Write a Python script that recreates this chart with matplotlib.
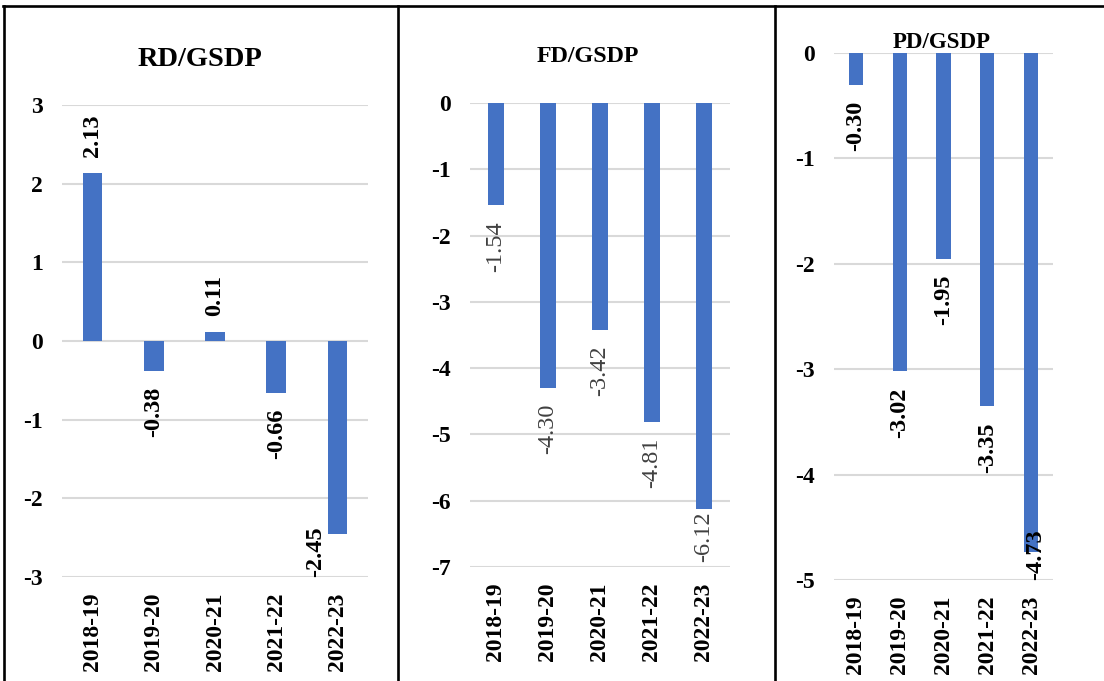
import matplotlib
matplotlib.use("Agg")
import matplotlib.pyplot as plt
from matplotlib.lines import Line2D
from matplotlib.transforms import offset_copy

plt.rcParams['font.family'] = ['Liberation Serif', 'DejaVu Serif']

categories = ["2018-19", "2019-20", "2020-21", "2021-22", "2022-23"]
rd_values = [2.13, -0.38, 0.11, -0.66, -2.45]
fd_values = [-1.54, -4.30, -3.42, -4.81, -6.12]
pd_values = [-0.30, -3.02, -1.95, -3.35, -4.73]
titles = ["RD/GSDP", "FD/GSDP", "PD/GSDP"]

W, H = 1104, 681
fig = plt.figure(figsize=(W / 100, H / 100), dpi=100)

BAR = "#4472C4"
GRID = "#d9d9d9"


def rect(left, right, top, bottom):
    return [left / W, (H - bottom) / H, (right - left) / W, (bottom - top) / H]


panels = [
    dict(vals=rd_values, r=rect(62, 368, 105, 577), ylim=(-3, 3), ticks=range(-3, 4),
         title=titles[0], tx=200, ty=60, tsize=20.5, lw="bold", lc="black",
         clip_dx=-16, clip_dy=0),
    dict(vals=fd_values, r=rect(470, 730, 103, 567), ylim=(-7, 0), ticks=range(-7, 1),
         title=titles[1], tx=588, ty=57, tsize=17.3, lw="normal", lc="#404040",
         clip_dx=0, clip_dy=3.5),
    dict(vals=pd_values, r=rect(834, 1053, 53, 580), ylim=(-5, 0), ticks=range(-5, 1),
         title=titles[2], tx=942, ty=42, tsize=16.5, lw="bold", lc="black",
         clip_dx=3, clip_dy=0),
]

fig.canvas.draw()
renderer = fig.canvas.get_renderer()

LSIZE = 17.5

for p in panels:
    ax = fig.add_axes(p["r"])
    x = list(range(len(categories)))
    ax.bar(x, p["vals"], width=0.32, color=BAR, zorder=3)
    ax.set_xlim(-0.5, len(categories) - 0.5)
    ax.set_ylim(*p["ylim"])
    ax.set_yticks(list(p["ticks"]))
    ax.set_yticklabels([str(t) for t in p["ticks"]], fontsize=17, fontweight="bold")
    ax.set_xticks(x)
    ax.set_xticklabels(categories, rotation=90, fontsize=17, fontweight="bold")
    ax.tick_params(axis="both", length=0)
    ax.tick_params(axis="x", pad=11)
    ax.tick_params(axis="y", pad=14)
    for s in ax.spines.values():
        s.set_visible(False)
    ax.yaxis.grid(True, color=GRID, linewidth=1.5, zorder=0)
    ax.set_axisbelow(True)
    for i, v in enumerate(p["vals"]):
        off = 11.5 if v >= 0 else -11.5
        t = ax.annotate(f"{v:.2f}", xy=(i, v), xytext=(0, off), textcoords="offset points",
                        ha="center", va="bottom" if v >= 0 else "top", rotation=90,
                        fontsize=LSIZE, fontweight=p["lw"], color=p["lc"], zorder=4)
        bb = t.get_window_extent(renderer)
        axbb = ax.get_window_extent(renderer)
        if bb.y0 < axbb.y0:
            t.remove()
            ax.annotate(f"{v:.2f}", xy=(i, p["ylim"][0]),
                        xytext=(p["clip_dx"], p["clip_dy"]), textcoords="offset points",
                        ha="center", va="bottom", rotation=90,
                        fontsize=LSIZE, fontweight=p["lw"], color=p["lc"], zorder=4)
    fig.text(p["tx"] / W, 1 - p["ty"] / H, p["title"], ha="center", va="center",
             fontsize=p["tsize"], fontweight="bold", color="black")

# table borders
lw = 1.9
fig.add_artist(Line2D([3 / W, 1], [1 - 6 / H, 1 - 6 / H], color="black", linewidth=lw))
fig.add_artist(Line2D([4 / W, 4 / W], [0, 1 - 6 / H], color="black", linewidth=lw))
fig.add_artist(Line2D([398 / W, 398 / W], [0, 1 - 6 / H], color="black", linewidth=lw))
fig.add_artist(Line2D([775 / W, 775 / W], [0, 1 - 6 / H], color="black", linewidth=lw))

fig.savefig("out.png", dpi=100, facecolor="white")
